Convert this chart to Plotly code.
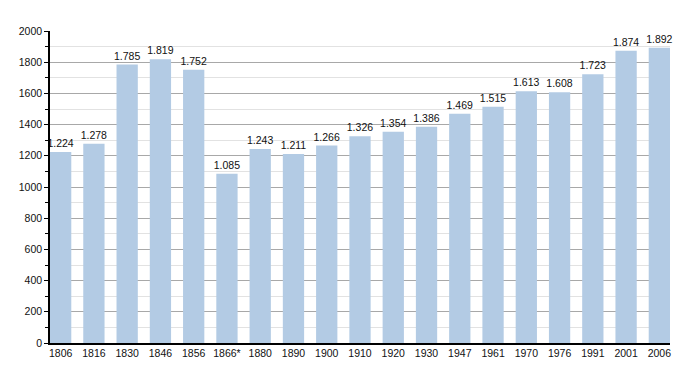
import plotly.graph_objects as go

years = ["1806", "1816", "1830", "1846", "1856", "1866*", "1880", "1890", "1900",
         "1910", "1920", "1930", "1947", "1961", "1970", "1976", "1991", "2001", "2006"]
population = [1224, 1278, 1785, 1819, 1752, 1085, 1243, 1211, 1266,
              1326, 1354, 1386, 1469, 1515, 1613, 1608, 1723, 1874, 1892]
y_ticks = [0, 200, 400, 600, 800, 1000, 1200, 1400, 1600, 1800, 2000]

labels = [f"{v:,}".replace(",", ".") for v in population]

fig = go.Figure()
fig.add_trace(go.Bar(
    x=years, y=population,
    width=0.64,
    marker=dict(color="#b3cbe4", line=dict(width=0)),
    text=labels, textposition="outside", constraintext="none",
    textfont=dict(family="Liberation Sans, Arial, sans-serif", size=10.5, color="#111"),
    cliponaxis=False,
))

fig.update_layout(
    width=700, height=373,
    margin=dict(l=42, r=38, t=23, b=38, autoexpand=False),
    paper_bgcolor="white", plot_bgcolor="white",
    showlegend=False,
    font=dict(family="Liberation Sans, Arial, sans-serif", size=10, color="#111"),
    xaxis=dict(
        type="category", range=[-0.32, 18.32], automargin=False,
        showline=True, linecolor="black", linewidth=1.5,
        ticks="", showgrid=False,
        tickfont=dict(size=10.5, color="#111"),
    ),
    yaxis=dict(
        range=[0, 2000], tickvals=y_ticks, automargin=False,
        showline=True, linecolor="black", linewidth=1.5,
        ticks="outside", ticklen=4, tickcolor="black",
        showgrid=True, gridcolor="#a8a8a8", gridwidth=1,
        zeroline=False,
        tickfont=dict(size=10.5, color="#111"),
        minor=dict(dtick=100, showgrid=True, gridcolor="#e2e2e2",
                   ticks="outside", ticklen=3, tickcolor="black"),
    ),
)

fig.write_html("out.html")
